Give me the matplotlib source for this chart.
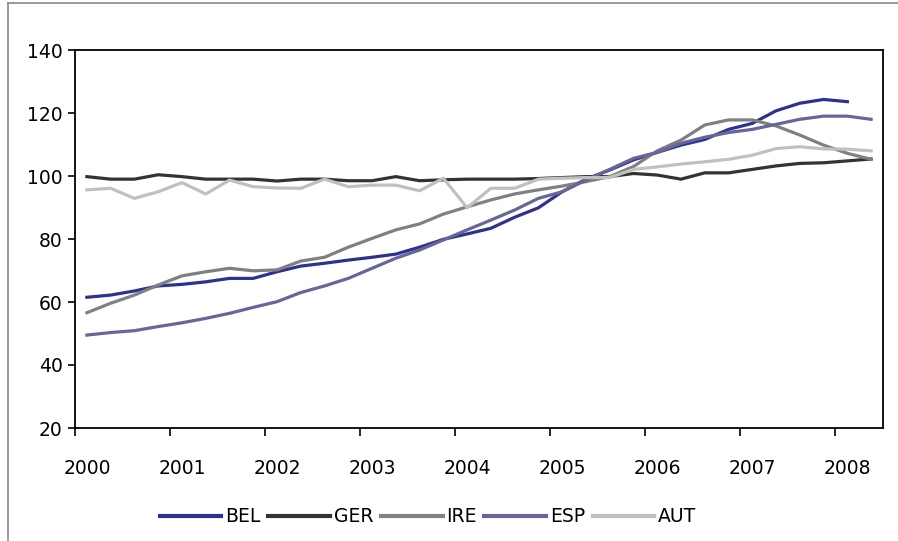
import numpy as np
import matplotlib
matplotlib.use('Agg')
import matplotlib.pyplot as plt
from matplotlib.lines import Line2D

# quarterly index values, 2000Q1 .. 2008Q2
years = ['2000', '2001', '2002', '2003', '2004', '2005', '2006', '2007', '2008']
bel = [61.5, 62.2, 63.5, 65.1, 65.6, 66.4, 67.5, 67.5, 69.6, 71.4, 72.3, 73.3,
       74.2, 75.2, 77.4, 79.9, 81.6, 83.4, 86.9, 89.9, 95.0, 99.0, 101.9, 105.1,
       107.5, 109.8, 111.6, 114.8, 116.7, 120.7, 123.1, 124.3, 123.6, np.nan]
ger = [99.8, 99.0, 99.0, 100.4, 99.8, 99.0, 99.0, 99.0, 98.4, 99.0, 99.0, 98.5,
       98.5, 99.8, 98.5, 98.8, 99.0, 99.0, 99.0, 99.2, 99.5, 99.8, 99.8, 100.8,
       100.3, 99.0, 101.0, 101.0, 102.1, 103.2, 104.0, 104.2, 104.8, 105.4]
ire = [56.6, 59.6, 62.2, 65.4, 68.3, 69.6, 70.7, 69.9, 70.2, 73.0, 74.2, 77.4,
       80.2, 82.9, 84.8, 87.9, 90.2, 92.4, 94.3, 95.6, 96.8, 98.2, 99.8, 103.0,
       108.0, 111.4, 116.2, 117.8, 117.8, 115.9, 113.0, 109.8, 107.2, 105.3]
esp = [49.5, 50.3, 50.9, 52.2, 53.4, 54.8, 56.4, 58.3, 60.1, 63.0, 65.1, 67.5,
       70.7, 73.9, 76.5, 79.7, 82.9, 86.0, 89.2, 92.9, 95.0, 98.7, 102.1, 105.6,
       107.5, 110.4, 112.3, 113.8, 114.8, 116.4, 118.0, 119.0, 119.0, 118.0]
aut = [95.6, 96.1, 92.9, 95.0, 97.9, 94.3, 98.7, 96.6, 96.2, 96.1, 99.0, 96.6,
       97.1, 97.1, 95.3, 99.3, 89.9, 96.1, 96.1, 99.0, 99.3, 99.5, 99.5, 102.1,
       102.9, 103.8, 104.5, 105.3, 106.6, 108.7, 109.3, 108.6, 108.5, 108.0]

series = [('BEL', bel, '#2E3192'), ('GER', ger, '#333333'), ('IRE', ire, '#808080'),
          ('ESP', esp, '#666699'), ('AUT', aut, '#C0C0C0')]

fig = plt.figure(figsize=(8.98, 5.41), dpi=100)
ax = fig.add_axes([75/898, 1-428/541, 808/898, 378/541])

x = np.arange(len(ger))
for name, vals, col in series:
    ax.plot(x, vals, color=col, lw=2.3, label=name, solid_joinstyle='round')

ax.set_xlim(-0.5, len(ger) - 0.5)
ax.set_ylim(20, 140)
ax.set_yticks(np.arange(20, 141, 20))

# tick marks between categories, labels on first quarter of each year
ax.set_xticks(np.arange(-0.5, len(ger), 4))
ax.set_xticklabels([])
ax.set_xticks(np.arange(0, len(ger), 4), minor=True)
ax.set_xticklabels(years, minor=True)
ax.tick_params(axis='x', which='major', direction='out', length=6, width=1.2)
ax.tick_params(axis='x', which='minor', length=0, pad=22, labelsize=13.5)
ax.tick_params(axis='y', direction='out', length=5, width=1.2, labelsize=13.5, pad=4)

for s in ax.spines.values():
    s.set_linewidth(1.3)
    s.set_color('black')

leg = fig.legend(loc='center', bbox_to_anchor=(428/898, 1-517/541), ncol=5, frameon=False,
                 fontsize=13.5, handlelength=3.3, handletextpad=0.2, columnspacing=0.4)
for h in leg.get_lines():
    h.set_linewidth(3)

# outer chart border (top and left visible)
fig.add_artist(Line2D([8/898, 1], [1-3/541, 1-3/541], color='#888888', lw=1.2))
fig.add_artist(Line2D([8/898, 8/898], [0, 1-3/541], color='#888888', lw=1.2))

fig.savefig('out.png', dpi=100)
